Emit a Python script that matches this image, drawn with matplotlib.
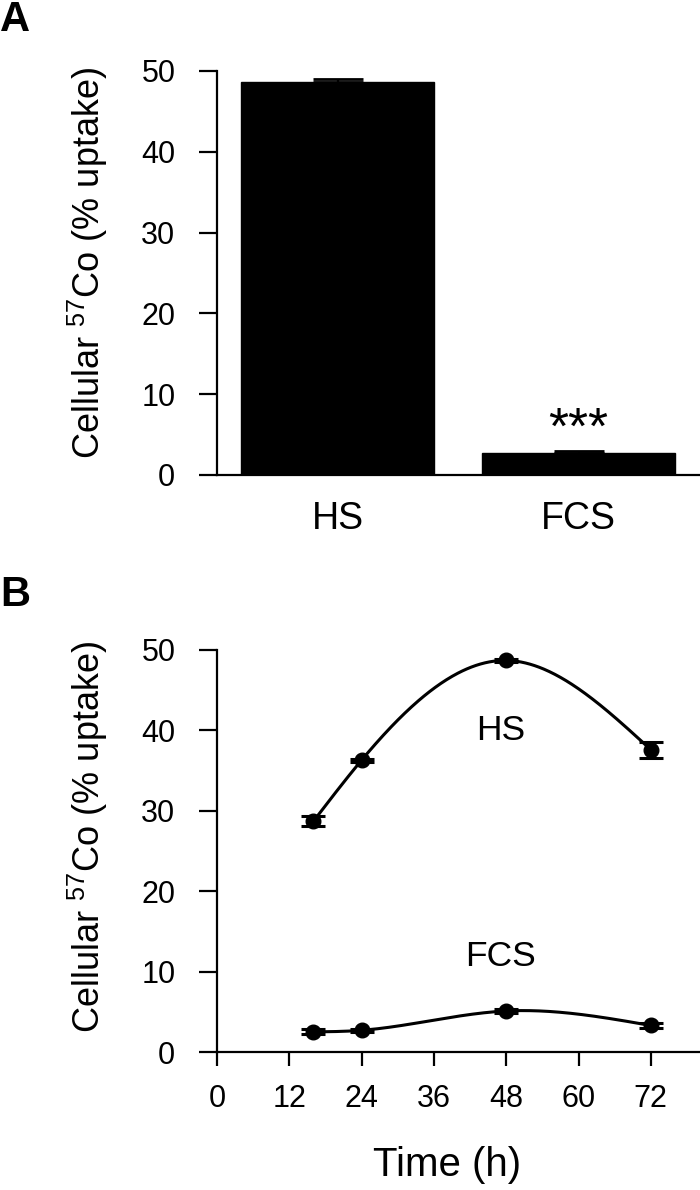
import numpy as np
import matplotlib
matplotlib.use("Agg")
import matplotlib.pyplot as plt

plt.rcParams['font.family'] = ['Liberation Sans', 'DejaVu Sans']
plt.rcParams['mathtext.fontset'] = 'custom'
plt.rcParams['mathtext.rm'] = 'Liberation Sans'
plt.rcParams['mathtext.it'] = 'Liberation Sans'

# ---- data ----
bar_categories = ["HS", "FCS"]
bar_values = [48.7, 2.7]
bar_errors = [0.35, 0.3]

time_h = [16, 24, 48, 72]
hs_values = [28.7, 36.3, 48.7, 37.6]
hs_errors = [0.6, 0.2, 0.2, 1.0]
fcs_values = [2.5, 2.7, 5.1, 3.3]
fcs_errors = [0.3, 0.2, 0.3, 0.3]

y_ticks = [0, 10, 20, 30, 40, 50]
x_ticks_b = [0, 12, 24, 36, 48, 60, 72]
ylabel = "Cellular $^{57}$Co (% uptake)"


def natural_spline(x, y, xs):
    x = np.asarray(x, float)
    y = np.asarray(y, float)
    n = len(x)
    h = np.diff(x)
    A = np.zeros((n, n))
    b = np.zeros(n)
    A[0, 0] = 1
    A[-1, -1] = 1
    for i in range(1, n - 1):
        A[i, i - 1] = h[i - 1]
        A[i, i] = 2 * (h[i - 1] + h[i])
        A[i, i + 1] = h[i]
        b[i] = 6 * ((y[i + 1] - y[i]) / h[i] - (y[i] - y[i - 1]) / h[i - 1])
    M = np.linalg.solve(A, b)
    out = np.empty_like(xs)
    for k, xv in enumerate(xs):
        i = min(np.searchsorted(x, xv) - 1, n - 2)
        i = max(i, 0)
        t1 = x[i + 1] - xv
        t0 = xv - x[i]
        out[k] = (M[i] * t1 ** 3 / (6 * h[i]) + M[i + 1] * t0 ** 3 / (6 * h[i])
                  + (y[i] / h[i] - M[i] * h[i] / 6) * t1
                  + (y[i + 1] / h[i] - M[i + 1] * h[i] / 6) * t0)
    return out


W, H = 700, 1190
fig = plt.figure(figsize=(W / 100, H / 100), dpi=100)


def px_axes(l, t, r, b):
    return fig.add_axes([l / W, 1 - b / H, (r - l) / W, (b - t) / H])


lw_spine = 1.6
tick_fs = 22

# ---- Panel A ----
axA = px_axes(217, 71, 699, 475)
xpos = np.arange(len(bar_categories))
axA.bar(xpos, bar_values, width=0.8, color='black', edgecolor='black', zorder=2)
axA.errorbar(xpos, bar_values, yerr=[[0, 0], bar_errors], fmt='none', ecolor='black',
             elinewidth=1.6, capsize=18, capthick=2.0, zorder=3)
axA.set_xlim(-0.5, 1.5)
axA.set_ylim(0, 50)
axA.set_yticks(y_ticks)
axA.set_xticks(xpos)
axA.set_xticklabels(bar_categories, fontsize=27)
axA.tick_params(axis='x', length=0, pad=19)
axA.tick_params(axis='y', length=13, width=lw_spine, direction='out', labelsize=tick_fs, pad=17)
for s in ['top', 'right']:
    axA.spines[s].set_visible(False)
for s in ['left', 'bottom']:
    axA.spines[s].set_linewidth(lw_spine)
axA.text(1, bar_values[1] + bar_errors[1] + 2.6, "***", ha='center', va='center', fontsize=37)

fig.text(88 / W, 1 - 263 / H, ylabel, rotation=90, ha='center', va='center', fontsize=26)
fig.text(0 / W, 1 - 20 / H, "A", fontsize=30, fontweight='bold', ha='left', va='center')

# ---- Panel B ----
axB = px_axes(217, 650, 699, 1052)
xs = np.linspace(time_h[0], time_h[-1], 300)
axB.plot(xs, natural_spline(time_h, hs_values, xs), color='black', lw=2.2, zorder=2)
axB.plot(xs, natural_spline(time_h, fcs_values, xs), color='black', lw=2.2, zorder=2)
axB.errorbar(time_h, hs_values, yerr=hs_errors, fmt='o', color='black', ms=10.5,
             elinewidth=1.8, capsize=8.5, capthick=2.2, zorder=3)
axB.errorbar(time_h, fcs_values, yerr=fcs_errors, fmt='o', color='black', ms=10.5,
             elinewidth=1.8, capsize=8.5, capthick=2.2, zorder=3)
axB.set_xlim(0, 80)
axB.set_ylim(0, 50)
axB.set_xticks(x_ticks_b)
axB.set_yticks(y_ticks)
axB.tick_params(axis='x', length=10, width=lw_spine, direction='out', labelsize=tick_fs, pad=13)
axB.tick_params(axis='y', length=13, width=lw_spine, direction='out', labelsize=tick_fs, pad=17)
for s in ['top', 'right']:
    axB.spines[s].set_visible(False)
for s in ['left', 'bottom']:
    axB.spines[s].set_linewidth(lw_spine)
axB.text(47.1, 40.0, "HS", ha='center', va='center', fontsize=25.5)
axB.text(47.1, 11.9, "FCS", ha='center', va='center', fontsize=25.5)

fig.text(88 / W, 1 - 837 / H, ylabel, rotation=90, ha='center', va='center', fontsize=26)
fig.text(447 / W, 1 - 1165 / H, "Time (h)", ha='center', va='center', fontsize=29)
fig.text(0 / W, 1 - 595 / H, "B", fontsize=30, fontweight='bold', ha='left', va='center')

fig.savefig("out.png", dpi=100)
